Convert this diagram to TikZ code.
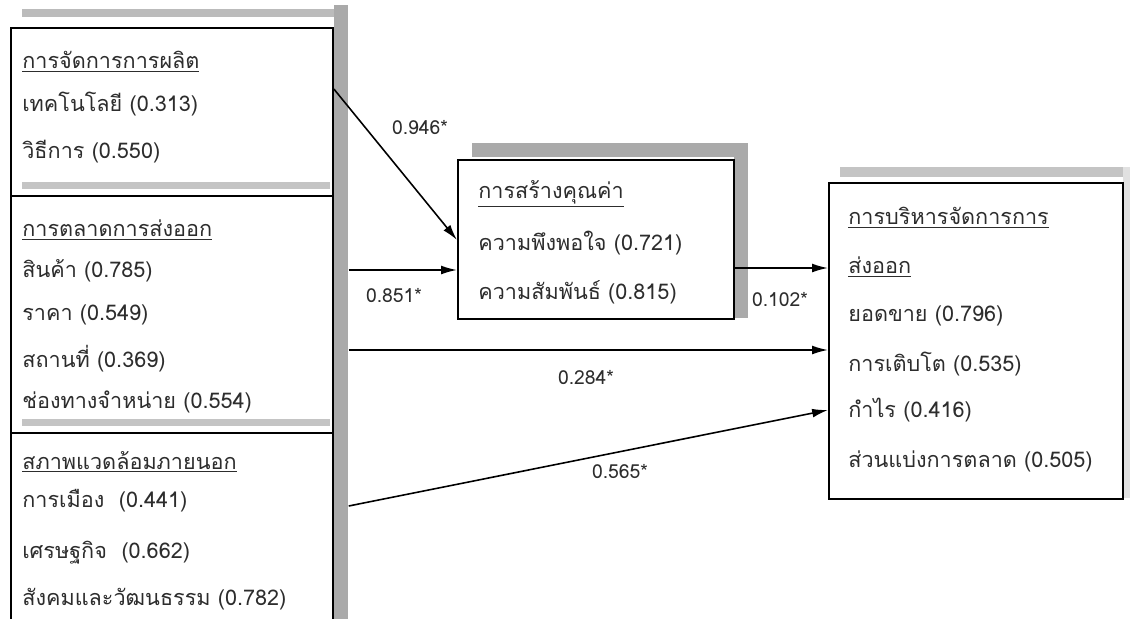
\documentclass[tikz,border=0pt]{standalone}
\usepackage{fontspec}
\setmainfont{Loma}[Script=Thai]
\usetikzlibrary{arrows.meta}
\definecolor{InkGray}{RGB}{45,45,45}
\definecolor{ShadowGray}{RGB}{170,170,170}

\begin{document}
\begin{tikzpicture}[x=0.02cm, y=-0.02cm,
    box/.style={draw=black, line width=1.1pt, fill=white, inner sep=0pt, anchor=north west},
    txt/.style={anchor=west, inner sep=0pt, text=InkGray, font=\fontsize{12.3}{14}\selectfont},
    lbl/.style={inner sep=0pt, text=InkGray, font=\fontsize{11}{13}\selectfont},
    arr/.style={-{Latex[length=9pt,width=5pt]}, line width=0.9pt, black}]
    \useasboundingbox (0,0) rectangle (1130,619);
    \clip (0,0) rectangle (1130,619);
    \fill[white] (0,0) rectangle (1130,619);

    % Shadows behind the left column
    \node[fill=ShadowGray, inner sep=0pt, anchor=north west, minimum width=0.28cm, minimum height=12.6cm] (colshade) at (334,5) {};
    \fill[ShadowGray!80] (22,9) rectangle (334,17);

    % Left column
    \node[box, minimum width=6.44cm, minimum height=3.36cm] (prod) at (10,27) {};
    \node[box, minimum width=6.44cm, minimum height=4.74cm] (mkt) at (10,195) {};
    \node[box, minimum width=6.44cm, minimum height=4.4cm] (env) at (10,432) {};
    \fill[ShadowGray!70] (22,182) rectangle (330,189);
    \fill[ShadowGray!70] (22,419) rectangle (330,426);

    % Middle box
    \fill[ShadowGray] (472,143) rectangle (748,157);
    \fill[ShadowGray] (734,143) rectangle (748,318);
    \node[box, minimum width=5.52cm, minimum height=3.18cm] (val) at (457,159) {};

    % Right box
    \fill[ShadowGray!70] (840,167) rectangle (1130,177);
    \fill[ShadowGray!35] (1123,167) rectangle (1130,498);
    \node[box, minimum width=5.88cm, minimum height=6.32cm] (exp) at (828,182) {};

    % Texts of the left column
    \node[txt] (prodT) at (22,62) {\underline{การจัดการการผลิต}};
    \node[txt] (prodA) at (22,104) {เทคโนโลยี (0.313)};
    \node[txt] (prodB) at (22,152) {วิธีการ (0.550)};

    \node[txt] (mktT) at (22,230) {\underline{การตลาดการส่งออก}};
    \node[txt] (mktA) at (22,271) {สินค้า (0.785)};
    \node[txt] (mktB) at (22,315) {ราคา (0.549)};
    \node[txt] (mktC) at (22,359) {สถานที่ (0.369)};
    \node[txt] (mktD) at (22,402) {ช่องทางจำหน่าย (0.554)};

    \node[txt] (envT) at (22,462) {\underline{สภาพแวดล้อมภายนอก}};
    \node[txt] (envA) at (22,501) {การเมือง~ (0.441)};
    \node[txt] (envB) at (22,553) {เศรษฐกิจ~ (0.662)};
    \node[txt] (envC) at (22,599) {สังคมและวัฒนธรรม (0.782)};

    % Texts of the middle and right boxes
    \node[txt] (valT) at (478,194) {\underline{การสร้างคุณค่า}};
    \node[txt] (valA) at (478,243) {ความพึงพอใจ (0.721)};
    \node[txt] (valB) at (478,292) {ความสัมพันธ์ (0.815)};

    \node[txt] (expT) at (848,218) {\underline{การบริหารจัดการการ}};
    \node[txt] (expU) at (848,267) {\underline{ส่งออก}};
    \node[txt] (expA) at (848,316) {ยอดขาย (0.796)};
    \node[txt] (expB) at (848,364) {การเติบโต (0.535)};
    \node[txt] (expC) at (848,410) {กำไร (0.416)};
    \node[txt] (expD) at (848,461) {ส่วนแบ่งการตลาด (0.505)};

    % Paths
    \draw[arr] (prod.east |- 0,89) -- (val.west |- 0,240);
    \draw[arr] (colshade.east |- 0,270) -- (val.west |- 0,270);
    \draw[arr] (val.east |- 0,268) -- (exp.west |- 0,268);
    \draw[arr] (colshade.east |- 0,350) -- (exp.west |- 0,350);
    \draw[arr] (colshade.east |- 0,506) -- (exp.west |- 0,410);

    \node[lbl] (w946) at (420,128) {0.946*};
    \node[lbl] (w851) at (394,296) {0.851*};
    \node[lbl] (w102) at (780,300) {0.102*};
    \node[lbl] (w284) at (586,378) {0.284*};
    \node[lbl] (w565) at (620,472) {0.565*};
\end{tikzpicture}
\end{document}
